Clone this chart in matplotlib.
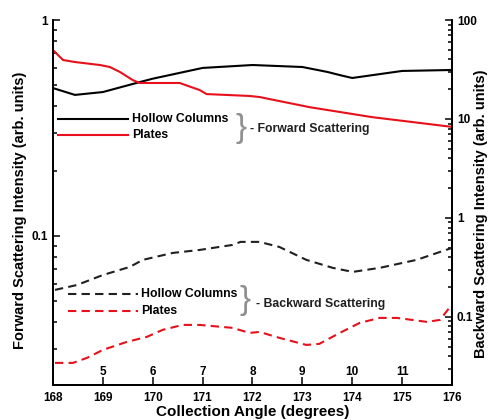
import numpy as np
import matplotlib
matplotlib.use('Agg')
import matplotlib.pyplot as plt

plt.rcParams['font.family'] = ['Liberation Sans', 'DejaVu Sans']
plt.rcParams['font.weight'] = 'bold'

# forward scattering (left axis)
fwd_hc_angle = [168.0, 168.44, 169.0, 169.74, 170.0, 171.0, 172.0, 173.0, 173.5, 173.75, 174.0, 175.0, 176.0]
fwd_hc_val = [0.484, 0.450, 0.464, 0.516, 0.535, 0.600, 0.619, 0.606, 0.575, 0.556, 0.539, 0.581, 0.587]

fwd_pl_angle = [168.0, 168.2, 168.44, 168.94, 169.14, 169.34, 169.6, 169.74, 170.54, 170.94, 171.08,
                171.94, 172.14, 173.14, 174.4, 176.0]
fwd_pl_val = [0.726, 0.653, 0.639, 0.619, 0.606, 0.575, 0.527, 0.511, 0.511, 0.474, 0.454,
              0.445, 0.440, 0.395, 0.355, 0.320]

# backward scattering (right axis)
bwd_hc_angle = [168.04, 168.48, 169.0, 169.54, 169.8, 170.4, 170.94, 171.6, 171.76, 172.14, 172.54,
                173.08, 173.61, 174.01, 174.55, 175.29, 176.0]
bwd_hc_val = [0.1875, 0.210, 0.265, 0.320, 0.377, 0.443, 0.475, 0.534, 0.573, 0.573, 0.509,
              0.377, 0.313, 0.285, 0.313, 0.377, 0.498]

bwd_pl_angle = [168.04, 168.4, 168.68, 169.0, 169.48, 169.88, 170.2, 170.6, 170.94, 171.6, 171.94,
                172.14, 172.54, 173.08, 173.34, 173.75, 174.15, 174.55, 174.9, 175.5, 175.76, 175.96]
bwd_pl_val = [0.0343, 0.0343, 0.0385, 0.0464, 0.0559, 0.0628, 0.0740, 0.0830, 0.0830, 0.0775, 0.0689,
              0.0705, 0.0614, 0.0521, 0.0534, 0.0689, 0.0870, 0.0977, 0.0977, 0.0890, 0.0933, 0.126]

angle_ticks = [168, 169, 170, 171, 172, 173, 174, 175, 176]
inner_ticks = [169, 170, 171, 172, 173, 174, 175]
inner_labels = ['5', '6', '7', '8', '9', '10', '11']

fig = plt.figure(figsize=(4.88, 4.20), dpi=100)
ax = fig.add_axes([0.1086, 0.0833, 0.8176, 0.8690])
ax2 = ax.twinx()

red = '#e8101a'
dash = (0, (4, 2.5))

ax.plot(fwd_hc_angle, fwd_hc_val, color='black', lw=1.5)
ax.plot(fwd_pl_angle, fwd_pl_val, color=red, lw=1.5)
ax2.plot(bwd_hc_angle, bwd_hc_val, color='#202020', lw=1.5, ls=dash)
ax2.plot(bwd_pl_angle, bwd_pl_val, color=red, lw=1.5, ls=dash)

ax.set_xlim(168, 176)
ax.set_yscale('log')
ax.set_ylim(0.0204, 1)
ax2.set_yscale('log')
ax2.set_ylim(0.0205, 100)

ax.set_xticks(angle_ticks)
ax.set_xticklabels([str(a) for a in angle_ticks])
ax.set_yticks([0.1, 1])
ax.set_yticklabels(['0.1', '1'])
ax2.set_yticks([0.1, 1, 10, 100])
ax2.set_yticklabels(['0.1', '1', '10', '100'])

for a in (ax, ax2):
    a.spines['top'].set_visible(False)
    for s in a.spines.values():
        s.set_linewidth(1.3)
    a.tick_params(which='both', direction='in', labelsize=8.5, width=1.1)
    a.tick_params(which='major', length=5)
    a.tick_params(which='minor', length=3)
ax.tick_params(axis='x', length=6, pad=5)

sec = ax.secondary_xaxis('bottom')
sec.set_xticks(inner_ticks)
sec.set_xticklabels(inner_labels)
sec.tick_params(length=0, pad=-14, labelsize=8.5)
sec.spines['bottom'].set_visible(False)

ax.set_xlabel('Collection Angle (degrees)', fontsize=11, fontweight='bold', labelpad=1)
fig.text(0.042, 0.5, 'Forward Scattering Intensity (arb. units)', rotation=90,
         ha='center', va='center', fontsize=10.5, fontweight='bold')
fig.text(0.985, 0.49, 'Backward Scattering Intensity (arb. units)', rotation=90,
         ha='center', va='center', fontsize=10.5, fontweight='bold')

# annotation legends
tr = ax.transAxes
ax.plot([0.0125, 0.188], [0.729, 0.729], color='black', lw=1.5, transform=tr)
ax.plot([0.0125, 0.188], [0.685, 0.685], color=red, lw=1.5, transform=tr)
ax.text(0.198, 0.729, 'Hollow Columns', transform=tr, fontsize=8.8, va='center')
ax.text(0.198, 0.685, 'Plates', transform=tr, fontsize=8.8, va='center')
ax.text(0.457, 0.703, '}', transform=tr, fontsize=24, va='center', color='#909090', fontweight='light')
ax.text(0.495, 0.701, '- Forward Scattering', transform=tr, fontsize=8.8, va='center', color='#202020')

ax.plot([0.0376, 0.213], [0.249, 0.249], color='#202020', lw=1.5, ls=dash, transform=tr)
ax.plot([0.0376, 0.213], [0.203, 0.203], color=red, lw=1.5, ls=dash, transform=tr)
ax.text(0.221, 0.249, 'Hollow Columns', transform=tr, fontsize=8.8, va='center')
ax.text(0.221, 0.203, 'Plates', transform=tr, fontsize=8.8, va='center')
ax.text(0.468, 0.232, '}', transform=tr, fontsize=24, va='center', color='#909090', fontweight='light')
ax.text(0.51, 0.222, '- Backward Scattering', transform=tr, fontsize=8.8, va='center', color='#202020')

fig.savefig('out.png', dpi=100)
